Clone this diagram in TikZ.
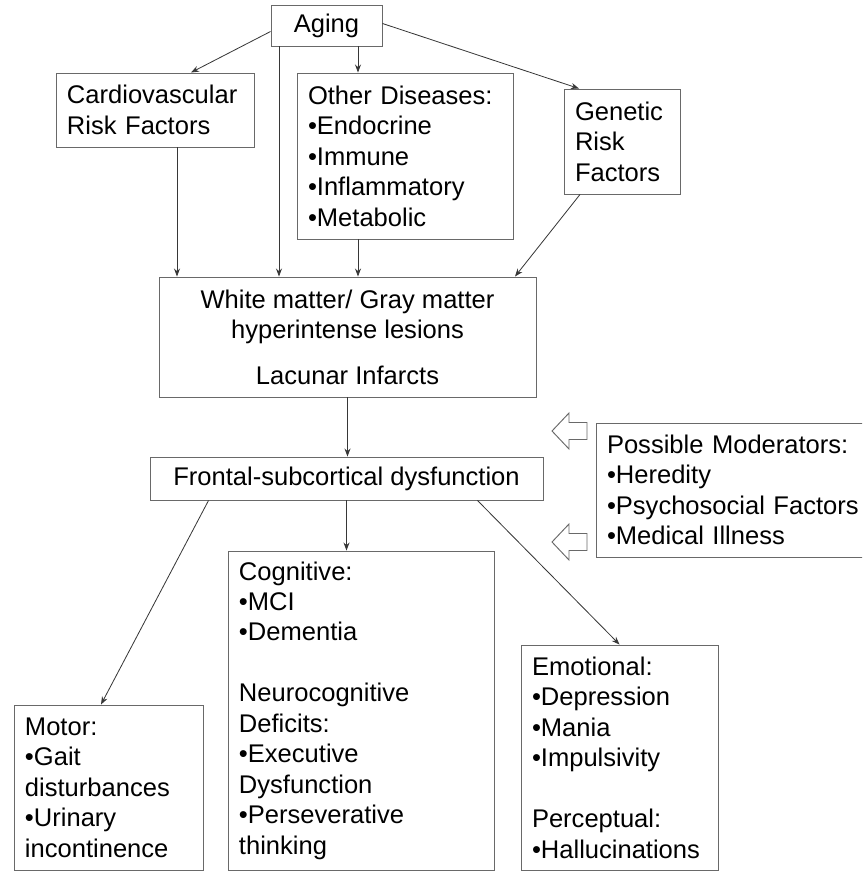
\documentclass[tikz,border=0pt]{standalone}
\usepackage{fontspec}
\setsansfont{Liberation Sans}
\usepackage{xcolor}
\definecolor{boxgray}{RGB}{105,105,105}
\definecolor{linkgray}{RGB}{55,55,55}
\usepackage{tikz}
\usetikzlibrary{arrows.meta, positioning, calc}

\begin{document}
\begin{tikzpicture}[
    x=0.03cm, y=-0.03cm,
    >={Stealth[length=2.4mm, width=1.8mm]},
    font=\sffamily\fontsize{21.8}{26}\selectfont,
    boxnode/.style={draw=boxgray, rectangle, line width=0.8pt, align=left, inner xsep=0.33cm, inner ysep=0pt},
    midnode/.style={draw=boxgray, rectangle, line width=0.8pt, align=center, inner sep=0pt},
    link/.style={->, draw=linkgray, line width=0.7pt},
    modarrow/.style={draw=boxgray, fill=white, line width=0.8pt}
  ]
  \clip (0,0) rectangle (862,871);

  \node (aging) [midnode, minimum width=3.33cm, minimum height=1.23cm] at (326.5,25.5) {Aging};
  \node (cardio) [boxnode, text width=5.28cm, minimum height=2.22cm] at (155,110) {Cardiovascular\\Risk Factors};
  \node (other) [boxnode, text width=5.82cm, minimum height=4.98cm] at (405,156) {Other Diseases:\\•Endocrine\\•Immune\\•Inflammatory\\•Metabolic};
  \node (genetic) [boxnode, text width=2.82cm, minimum height=3.15cm] at (622,141.5) {Genetic\\Risk\\Factors};

  \node (lesions) [midnode, minimum width=11.31cm, minimum height=3.6cm] at (347.5,337) {White matter/ Gray matter\\hyperintense lesions\\[13pt]Lacunar Infarcts};
  \node (frontal) [midnode, minimum width=11.79cm, minimum height=1.29cm] at (346.5,478.5) {Frontal-subcortical dysfunction};
  \node (moder) [boxnode, text width=7.86cm, minimum height=4.02cm] at (738,490) {Possible Moderators:\\•Heredity\\•Psychosocial Factors\\•Medical Illness};

  \node (motor) [boxnode, text width=5.01cm, minimum height=4.95cm] at (108.5,787.5) {Motor:\\•Gait\\disturbances\\•Urinary\\incontinence};
  \node (cognit) [boxnode, text width=7.32cm, minimum height=9.57cm] at (361,710.5) {Cognitive:\\•MCI\\•Dementia\\[26pt]Neurocognitive\\Deficits:\\•Executive\\Dysfunction\\•Perseverative\\thinking};
  \node (emotion) [boxnode, text width=5.25cm, minimum height=6.75cm] at (619.5,757.5) {Emotional:\\•Depression\\•Mania\\•Impulsivity\\[26pt]Perceptual:\\•Hallucinations};

  \coordinate (agleft) at ($(aging.south)+(-47.5,0)$);
  \coordinate (agright) at ($(aging.south)+(31.5,0)$);
  \coordinate (cardiofoot) at ($(cardio.south)+(22,0)$);
  \coordinate (otherfoot) at ($(other.south)+(-47,0)$);

  \draw[link] ($(aging.west)+(0,6)$) -- ($(cardio.north)+(36,0)$);
  \draw[link] (agleft) -- (agleft |- lesions.north);
  \draw[link] (agright) -- (agright |- other.north);
  \draw[link] ($(aging.east)+(0,-2)$) -- ($(genetic.north)+(-43,0)$);
  \draw[link] (cardiofoot) -- (cardiofoot |- lesions.north);
  \draw[link] (otherfoot) -- (otherfoot |- lesions.north);
  \draw[link] ($(genetic.south)+(-42,0)$) -- ($(lesions.north)+(167.5,0)$);
  \draw[link] (lesions.south) -- (lesions.south |- frontal.north);
  \draw[link] (frontal.south) -- (frontal.south |- cognit.north);
  \draw[link] ($(frontal.south west)+(59,0)$) -- ($(motor.north)+(-7.5,0)$);
  \draw[link] ($(frontal.south east)+(-66,0)$) -- (emotion.north);

  % hollow arrows from the moderators
  \foreach \ay in {431,542}
    \draw[modarrow] (552,\ay) -- ++(17,-18) -- ++(0,9.5) -- ++(18,0) -- ++(0,17) -- ++(-18,0) -- ++(0,9.5) -- cycle;

\end{tikzpicture}
\end{document}
